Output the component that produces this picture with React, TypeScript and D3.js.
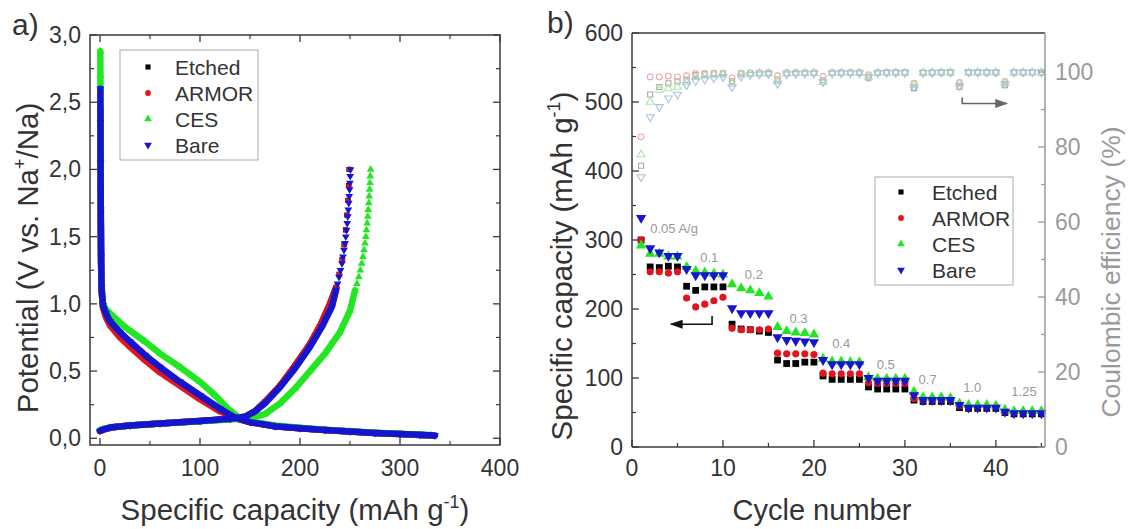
import React from 'react';
import * as d3 from 'd3';

const FONT = '"Liberation Sans", Arial, Helvetica, sans-serif';

const seriesNames = ['Etched', 'ARMOR', 'CES', 'Bare'];
const seriesColors = ['#000000', '#e3141b', '#22e622', '#1515cf'];
const ceColors = ['#a8a8a8', '#f0a8a8', '#a8e6a8', '#a8c0e8'];

// ---- panel a: galvanostatic profiles, [capacity (mAh/g), potential (V)]
const etchedDischarge = [
  [0.4, 2.45], [0.5, 2.2], [0.6, 1.9], [0.8, 1.6], [1.1, 1.3], [1.6, 1.1], [3, 0.98], [6, 0.91], [10, 0.85],
  [20, 0.76], [30, 0.69], [45, 0.59], [60, 0.5], [80, 0.4], [100, 0.3], [120, 0.21], [135, 0.15], [150, 0.12],
  [175, 0.09], [200, 0.075], [225, 0.062], [250, 0.05], [275, 0.04], [300, 0.032], [320, 0.025], [333, 0.02],
];
const armorDischarge = [
  [0.4, 2.4], [0.5, 2.2], [0.6, 1.9], [0.8, 1.6], [1.1, 1.3], [1.6, 1.1], [3, 0.97], [6, 0.9], [10, 0.84],
  [20, 0.75], [30, 0.68], [45, 0.58], [60, 0.49], [80, 0.39], [100, 0.29], [120, 0.2], [135, 0.15], [150, 0.12],
  [175, 0.09], [200, 0.075], [225, 0.062], [250, 0.05], [275, 0.04], [300, 0.032], [320, 0.025], [332, 0.02],
];
const cesDischarge = [
  [0.3, 2.88], [0.4, 2.7], [0.5, 2.4], [0.6, 2.1], [0.8, 1.7], [1.1, 1.35], [1.6, 1.12], [3, 1.0], [6, 0.96],
  [10, 0.93], [20, 0.86], [30, 0.8], [45, 0.72], [60, 0.63], [80, 0.53], [100, 0.42], [115, 0.32], [128, 0.22],
  [138, 0.16], [150, 0.125], [175, 0.095], [200, 0.078], [225, 0.064], [250, 0.052], [275, 0.042], [300, 0.033],
  [320, 0.026], [331, 0.022],
];
const bareDischarge = [
  [0.4, 2.6], [0.5, 2.35], [0.6, 2.05], [0.8, 1.7], [1.1, 1.35], [1.6, 1.12], [3, 0.99], [6, 0.93], [10, 0.87],
  [20, 0.79], [30, 0.72], [45, 0.62], [60, 0.53], [80, 0.42], [100, 0.32], [120, 0.22], [135, 0.155], [150, 0.12],
  [175, 0.09], [200, 0.075], [225, 0.062], [250, 0.05], [275, 0.04], [300, 0.032], [320, 0.026], [335, 0.02],
];
const etchedCharge = [
  [0, 0.055], [3, 0.065], [10, 0.08], [30, 0.095], [60, 0.11], [100, 0.128], [130, 0.143], [145, 0.16], [155, 0.2],
  [165, 0.27], [180, 0.39], [195, 0.54], [210, 0.7], [221, 0.85], [230, 1.0], [236, 1.12], [239, 1.22], [242, 1.33],
  [244, 1.44], [245.5, 1.55], [246.8, 1.66], [247.8, 1.77], [248.5, 1.88], [249, 2.0],
];
const armorCharge = [
  [0, 0.055], [3, 0.065], [10, 0.08], [30, 0.095], [60, 0.11], [100, 0.128], [130, 0.143], [145, 0.16], [155, 0.2],
  [165, 0.27], [180, 0.39], [195, 0.54], [210, 0.7], [221, 0.85], [230, 1.0], [236.5, 1.12], [239.5, 1.22],
  [242.5, 1.33], [244.5, 1.44], [246, 1.55], [247.3, 1.66], [248.2, 1.77], [249, 1.88], [249.5, 2.0],
];
const cesCharge = [
  [0, 0.06], [3, 0.068], [10, 0.08], [30, 0.095], [60, 0.11], [100, 0.127], [130, 0.14], [150, 0.15], [165, 0.18],
  [180, 0.26], [195, 0.37], [210, 0.5], [225, 0.63], [240, 0.79], [250, 0.95], [255, 1.1], [257, 1.15], [258.8, 1.2],
  [260.3, 1.25], [261.7, 1.3], [263, 1.35], [264, 1.4], [265, 1.45], [265.8, 1.5], [266.5, 1.55], [267.2, 1.6],
  [267.8, 1.65], [268.3, 1.7], [268.8, 1.75], [269.2, 1.8], [269.6, 1.85], [270, 1.9], [270.3, 1.95], [270.6, 2.0],
];
const bareCharge = [
  [0, 0.055], [3, 0.065], [10, 0.08], [30, 0.095], [60, 0.11], [100, 0.128], [130, 0.145], [145, 0.16], [155, 0.2],
  [165, 0.26], [180, 0.38], [195, 0.52], [210, 0.68], [222, 0.83], [232, 0.98], [236, 1.1], [237.6, 1.15],
  [239, 1.2], [240.5, 1.25], [242, 1.3], [243, 1.35], [244, 1.4], [245, 1.45], [245.8, 1.5], [246.5, 1.55],
  [247.2, 1.6], [247.8, 1.65], [248.3, 1.7], [248.8, 1.75], [249.2, 1.8], [249.6, 1.85], [249.9, 1.9],
  [250.2, 1.95], [250.5, 2.0],
];
const dischargeCurves = [etchedDischarge, armorDischarge, cesDischarge, bareDischarge];
const chargeCurves = [etchedCharge, armorCharge, cesCharge, bareCharge];

// ---- panel b: rate capability
const cycles = [
  1, 2, 3, 4, 5, 6, 7, 8, 9, 10, 11, 12, 13, 14, 15, 16, 17, 18, 19, 20, 21, 22, 23,
  24, 25, 26, 27, 28, 29, 30, 31, 32, 33, 34, 35, 36, 37, 38, 39, 40, 41, 42, 43, 44, 45,
];
const etchedCap = [
  300, 261, 260, 262, 261, 233, 227, 232, 232, 232, 178, 171, 170, 168, 166, 126, 121, 121, 123, 123, 103, 98, 98,
  98, 98, 87, 84, 84, 84, 84, 68, 66, 66, 66, 66, 57, 56, 56, 56, 56, 50, 48, 48, 48, 48,
];
const armorCap = [
  300, 254, 254, 252, 254, 216, 203, 207, 212, 217, 172, 170, 170, 170, 171, 136, 135, 135, 135, 134, 107, 106, 106,
  106, 106, 93, 92, 92, 92, 92, 70, 68, 68, 68, 68, 59, 58, 58, 58, 58, 51, 50, 50, 50, 50,
];
const cesCap = [
  292, 280, 280, 276, 276, 261, 255, 253, 251, 250, 236, 230, 227, 223, 218, 174, 168, 166, 165, 163, 128, 124, 124,
  123, 123, 101, 99, 99, 99, 99, 80, 72, 72, 72, 71, 63, 61, 61, 61, 60, 54, 52, 52, 52, 52,
];
const bareCap = [
  332, 288, 282, 277, 277, 258, 249, 249, 249, 249, 201, 194, 194, 194, 194, 159, 155, 154, 153, 152, 126, 120, 120,
  120, 120, 100, 96, 96, 96, 96, 75, 68, 68, 68, 68, 61, 57, 57, 57, 57, 51, 49, 49, 49, 49,
];
const etchedCE = [
  75, 94, 96, 97, 97.5, 97.9, 99.2, 99.5, 99.6, 99.6, 97.5, 99.6, 99.7, 99.7, 99.7, 98, 99.7, 99.8, 99.8, 99.8, 97.8,
  99.8, 99.8, 99.8, 99.8, 98.5, 99.8, 99.9, 99.9, 99.9, 95.7, 99.8, 99.9, 99.9, 99.9, 96, 99.9, 99.9, 99.9, 99.9,
  96.5, 99.9, 99.9, 99.9, 99.9,
];
const armorCE = [
  82.7, 98.7, 98.7, 98.9, 98.7, 99, 99.6, 99.6, 99.7, 99.7, 98.5, 99.7, 99.7, 99.8, 99.8, 99, 99.8, 99.8, 99.8, 99.8,
  98.8, 99.8, 99.9, 99.9, 99.9, 99.3, 99.9, 99.9, 99.9, 99.9, 97, 99.9, 99.9, 99.9, 99.9, 97.2, 99.9, 99.9, 99.9,
  99.9, 97.5, 99.9, 99.9, 99.9, 99.9,
];
const cesCE = [
  78, 92, 95.2, 95.6, 96, 97.2, 98.6, 99, 99.2, 99.3, 96.8, 99.3, 99.5, 99.6, 99.6, 97.5, 99.6, 99.7, 99.7, 99.7,
  97.3, 99.7, 99.8, 99.8, 99.8, 98.7, 99.8, 99.8, 99.8, 99.8, 96.5, 99.8, 99.9, 99.9, 99.9, 96.8, 99.8, 99.9, 99.9,
  99.9, 97, 99.9, 99.9, 99.9, 99.9,
];
const bareCE = [
  72, 88, 90.7, 93, 94, 96.5, 97.6, 98, 98.4, 98.7, 96, 98.8, 99.2, 99.4, 99.5, 96.9, 99.4, 99.5, 99.6, 99.6, 97.3,
  99.6, 99.7, 99.7, 99.7, 98.6, 99.7, 99.8, 99.8, 99.8, 96, 99.8, 99.8, 99.9, 99.9, 96.3, 99.9, 99.9, 99.9, 99.9,
  96.8, 99.9, 99.9, 99.9, 99.9,
];
const capSeries = [etchedCap, armorCap, cesCap, bareCap];
const ceSeries = [etchedCE, armorCE, cesCE, bareCE];

// current density labels: text, cycle, capacity at baseline start
const rateLabels = ['0.05 A/g', '0.1', '0.2', '0.3', '0.4', '0.5', '0.7', '1.0', '1.25'];
const rateLabelCycle = [2.0, 7.5, 12.4, 17.3, 22.0, 26.9, 31.5, 36.4, 41.7];
const rateLabelCap = [310, 268, 243, 180, 143, 113, 91, 79, 74];

// axis tick values
const aTicksX = [0, 100, 200, 300, 400];
const aMinorX = [50, 150, 250, 350];
const aTicksY = [0, 0.5, 1, 1.5, 2, 2.5, 3];
const aMinorY = [0.25, 0.75, 1.25, 1.75, 2.25, 2.75];
const bTicksX = [0, 10, 20, 30, 40];
const bMinorX = [5, 15, 25, 35, 45];
const bTicksY = [0, 100, 200, 300, 400, 500, 600];
const bMinorY = [50, 150, 250, 350, 450, 550];
const bTicksCE = [0, 20, 40, 60, 80, 100];
const bMinorCE = [10, 30, 50, 70, 90];

const symbolTypes = [d3.symbolSquare, d3.symbolCircle, d3.symbolTriangle, d3.symbolTriangle];
const symbolRot = [0, 0, 0, 180];

const marker = (i: number, size: number) => d3.symbol().type(symbolTypes[i]).size(size)() as string;

const AX = '#3a3a3a';

const App = () => {
  // panel a scales
  const ax = d3.scaleLinear().domain([-10, 400]).range([90, 500]);
  const ay = d3.scaleLinear().domain([-0.05, 3.0]).range([445, 35]);
  // panel b scales
  const bx = d3.scaleLinear().domain([0, 45.4]).range([632, 1045]);
  const by = d3.scaleLinear().domain([0, 600]).range([447, 33]);
  const bce = d3.scaleLinear().domain([0, 110]).range([447, 34.5]);

  const lineA = d3.line<number[]>().x((d) => ax(d[0])).y((d) => ay(d[1]));
  const lineAcharge = d3
    .line<number[]>()
    .defined((d) => d[1] < 1.15)
    .x((d) => ax(d[0]))
    .y((d) => ay(d[1]));
  const commaFmt = (v: number) => d3.format('.1f')(v).replace('.', ',');

  const [aL, aR, aT, aB] = [90, 500, 35, 445];
  const [bL, bR, bT, bB] = [632, 1045, 33, 447];

  const arrowL = { x0: bx(8.8), y0: by(190), y1: by(178), x1: bx(4.3) };
  const arrowR = { x0: bx(36.3), y0: bce(93.2), y1: bce(91.6), x1: bx(41.2) };

  return (
    <svg width={1128} height={529} style={{ position: 'absolute', left: 0, top: 0, background: '#fff' }}
      fontFamily={FONT}>
      <defs>
        <marker id="headBlack" viewBox="0 0 10 10" refX="9" refY="5" markerWidth="8" markerHeight="8" orient="auto">
          <path d="M0,1.5 L10,5 L0,8.5 z" fill="#111" />
        </marker>
        <marker id="headGrey" viewBox="0 0 10 10" refX="9" refY="5" markerWidth="8" markerHeight="8" orient="auto">
          <path d="M0,1.5 L10,5 L0,8.5 z" fill="#666" />
        </marker>
      </defs>

      {/* ================= panel a ================= */}
      <g>
        {/* curves */}
        {seriesNames.map((name, i) => (
          <g key={name}>
            <path d={lineA(dischargeCurves[i] as number[][]) as string} fill="none" stroke={seriesColors[i]}
              strokeWidth={6.5} strokeLinejoin="round" strokeLinecap="round" />
            <path d={lineAcharge(chargeCurves[i] as number[][]) as string} fill="none" stroke={seriesColors[i]}
              strokeWidth={6.5} strokeLinejoin="round" strokeLinecap="round" />
            {[...dischargeCurves[i], ...chargeCurves[i]].map((d, j) => (
              <path key={j} d={marker(i, 26)}
                transform={`translate(${ax(d[0])},${ay(d[1])}) rotate(${symbolRot[i]})`} fill={seriesColors[i]} />
            ))}
          </g>
        ))}

        {/* frame */}
        <rect x={aL} y={aT} width={aR - aL} height={aB - aT} fill="none" stroke={AX} strokeWidth={1.5} />
        {aTicksX.map((t) => (
          <g key={`ax${t}`}>
            <line x1={ax(t)} x2={ax(t)} y1={aB} y2={aB - 7} stroke={AX} strokeWidth={1.3} />
            <line x1={ax(t)} x2={ax(t)} y1={aT} y2={aT + 7} stroke={AX} strokeWidth={1.3} />
            <text x={ax(t)} y={476} textAnchor="middle" fontSize={23} fill="#333">{t}</text>
          </g>
        ))}
        {aMinorX.map((t) => (
          <g key={`axm${t}`}>
            <line x1={ax(t)} x2={ax(t)} y1={aB} y2={aB - 4} stroke={AX} strokeWidth={1.2} />
            <line x1={ax(t)} x2={ax(t)} y1={aT} y2={aT + 4} stroke={AX} strokeWidth={1.2} />
          </g>
        ))}
        {aTicksY.map((t) => (
          <g key={`ay${t}`}>
            <line x1={aL} x2={aL + 7} y1={ay(t)} y2={ay(t)} stroke={AX} strokeWidth={1.3} />
            <line x1={aR} x2={aR - 7} y1={ay(t)} y2={ay(t)} stroke={AX} strokeWidth={1.3} />
            <text x={81} y={ay(t) + 8} textAnchor="end" fontSize={23} fill="#333">{commaFmt(t)}</text>
          </g>
        ))}
        {aMinorY.map((t) => (
          <g key={`aym${t}`}>
            <line x1={aL} x2={aL + 4} y1={ay(t)} y2={ay(t)} stroke={AX} strokeWidth={1.2} />
            <line x1={aR} x2={aR - 4} y1={ay(t)} y2={ay(t)} stroke={AX} strokeWidth={1.2} />
          </g>
        ))}

        {/* legend */}
        <rect x={120} y={50} width={138} height={110} fill="#fff" stroke="#aaa" strokeWidth={1} />
        {seriesNames.map((name, i) => (
          <g key={`la${name}`}>
            <path d={marker(i, 26)} transform={`translate(148,${67 + i * 26}) rotate(${symbolRot[i]})`}
              fill={seriesColors[i]} />
            <text x={175} y={67 + i * 26 + 7.5} fontSize={21} fill="#333">{name}</text>
          </g>
        ))}

        {/* titles */}
        <text x={295} y={520} textAnchor="middle" fontSize={29.5} fill="#333">
          Specific capacity (mAh g<tspan dy={-12} fontSize={18}>-1</tspan><tspan dy={12}>)</tspan>
        </text>
        <text transform="translate(38,258) rotate(-90)" textAnchor="middle" fontSize={29.5} fill="#333">
          Potential (V vs. Na<tspan dy={-12} fontSize={18}>+</tspan><tspan dy={12}>/Na)</tspan>
        </text>
        <text x={12} y={35} fontSize={30} fill="#333">a)</text>
      </g>

      {/* ================= panel b ================= */}
      <g>
        {/* coulombic efficiency, hollow */}
        {ceSeries.map((vals, i) => (
          <g key={`ce${i}`}>
            {vals.map((v, j) => (
              <path key={j} d={marker(i, 26)}
                transform={`translate(${bx(cycles[j])},${bce(v)}) rotate(${symbolRot[i]})`}
                fill="none" stroke={ceColors[i]} strokeWidth={1.1} />
            ))}
          </g>
        ))}

        {/* capacity */}
        {capSeries.map((vals, i) => (
          <g key={`cap${i}`}>
            {vals.map((v, j) => (
              <path key={j} d={marker(i, i === 1 ? 40 : 46)}
                transform={`translate(${bx(cycles[j])},${by(v)}) rotate(${symbolRot[i]})`} fill={seriesColors[i]} />
            ))}
          </g>
        ))}

        {/* rate labels */}
        {rateLabels.map((t, i) => (
          <text key={t} x={bx(rateLabelCycle[i])} y={by(rateLabelCap[i])} fontSize={13} fill="#999">{t}</text>
        ))}

        {/* arrows */}
        <path d={`M${arrowL.x0},${arrowL.y0} V${arrowL.y1} H${arrowL.x1}`} fill="none" stroke="#111"
          strokeWidth={1.6} markerEnd="url(#headBlack)" />
        <path d={`M${arrowR.x0},${arrowR.y0} V${arrowR.y1} H${arrowR.x1}`} fill="none" stroke="#666"
          strokeWidth={1.6} markerEnd="url(#headGrey)" />

        {/* frame */}
        <line x1={bL} x2={bR} y1={bT} y2={bT} stroke={AX} strokeWidth={1.5} />
        <line x1={bL} x2={bR} y1={bB} y2={bB} stroke={AX} strokeWidth={1.5} />
        <line x1={bL} x2={bL} y1={bT} y2={bB} stroke={AX} strokeWidth={1.5} />
        <line x1={bR} x2={bR} y1={bT} y2={bB} stroke="#9a9a9a" strokeWidth={1.5} />

        {bTicksX.map((t) => (
          <g key={`bx${t}`}>
            <line x1={bx(t)} x2={bx(t)} y1={bB} y2={bB - 7} stroke={AX} strokeWidth={1.3} />
            <text x={bx(t)} y={476} textAnchor="middle" fontSize={23} fill="#333">{t}</text>
          </g>
        ))}
        {bMinorX.map((t) => (
          <line key={`bxm${t}`} x1={bx(t)} x2={bx(t)} y1={bB} y2={bB - 4} stroke={AX} strokeWidth={1.2} />
        ))}
        {bTicksY.map((t) => (
          <g key={`by${t}`}>
            <line x1={bL} x2={bL + 7} y1={by(t)} y2={by(t)} stroke={AX} strokeWidth={1.3} />
            <text x={623} y={by(t) + 8} textAnchor="end" fontSize={23} fill="#333">{t}</text>
          </g>
        ))}
        {bMinorY.map((t) => (
          <line key={`bym${t}`} x1={bL} x2={bL + 4} y1={by(t)} y2={by(t)} stroke={AX} strokeWidth={1.2} />
        ))}
        {bTicksCE.map((t) => (
          <g key={`bc${t}`}>
            <line x1={bR} x2={bR - 7} y1={bce(t)} y2={bce(t)} stroke="#9a9a9a" strokeWidth={1.3} />
            <text x={1055} y={bce(t) + 8} fontSize={23} fill="#9a9a9a">{t}</text>
          </g>
        ))}
        {bMinorCE.map((t) => (
          <line key={`bcm${t}`} x1={bR} x2={bR - 4} y1={bce(t)} y2={bce(t)} stroke="#9a9a9a" strokeWidth={1.2} />
        ))}

        {/* legend */}
        <rect x={875} y={177} width={138} height={108} fill="#fff" stroke="#aaa" strokeWidth={1} />
        {seriesNames.map((name, i) => (
          <g key={`lb${name}`}>
            <path d={marker(i, 26)} transform={`translate(901,${192 + i * 26}) rotate(${symbolRot[i]})`}
              fill={seriesColors[i]} />
            <text x={932} y={192 + i * 26 + 7.5} fontSize={21} fill="#333">{name}</text>
          </g>
        ))}

        {/* titles */}
        <text x={822} y={520} textAnchor="middle" fontSize={29} fill="#333">Cycle number</text>
        <text transform="translate(572,266) rotate(-90)" textAnchor="middle" fontSize={29.5} fill="#333">
          Specific capacity (mAh g<tspan dy={-12} fontSize={18}>-1</tspan><tspan dy={12}>)</tspan>
        </text>
        <text transform="translate(1120,272) rotate(-90)" textAnchor="middle" fontSize={26.5} fill="#9a9a9a">
          Coulombic efficiency (%)
        </text>
        <text x={547} y={33} fontSize={30} fill="#333">b)</text>
      </g>
    </svg>
  );
};

export default App;
